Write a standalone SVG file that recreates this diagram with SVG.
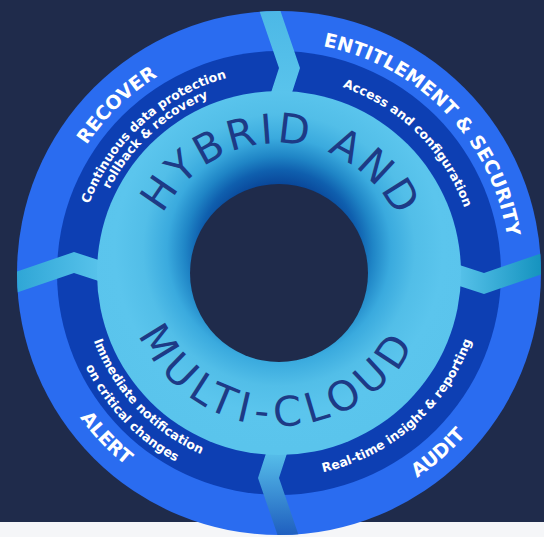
<svg xmlns="http://www.w3.org/2000/svg" width="544" height="537" viewBox="0 0 544 537">
<defs>
<style>
.title{font-family:"DejaVu Sans","Liberation Sans",sans-serif;font-weight:700;font-size:19px;fill:#ffffff}
.sub{font-family:"DejaVu Sans","Liberation Sans",sans-serif;font-weight:700;font-size:12.5px;fill:#ffffff}
.big{font-family:"DejaVu Sans","Liberation Sans",sans-serif;font-weight:400;font-size:41px;fill:#1d3a86}
.outer{fill:#2a6cf0}
.band{fill:#0d3fb3}
</style>
<radialGradient id="torus" gradientUnits="userSpaceOnUse" cx="279" cy="250" r="200">
<stop offset="0.33" stop-color="#09479a"/>
<stop offset="0.4" stop-color="#0f5fae"/>
<stop offset="0.47" stop-color="#1f85c6"/>
<stop offset="0.56" stop-color="#3aaade"/>
<stop offset="0.68" stop-color="#52bee8"/>
<stop offset="0.82" stop-color="#5bc5ed"/>
<stop offset="1" stop-color="#5ac4ec"/>
</radialGradient>
<linearGradient id="gTop" gradientUnits="userSpaceOnUse" x1="0" y1="98" x2="0" y2="11">
<stop offset="0" stop-color="#5ac4ec"/><stop offset="1" stop-color="#4cb8e6"/>
</linearGradient>
<linearGradient id="gRight" gradientUnits="userSpaceOnUse" x1="0" y1="98" x2="0" y2="11">
<stop offset="0" stop-color="#5ac4ec"/><stop offset="1" stop-color="#1593bf"/>
</linearGradient>
<linearGradient id="gBottom" gradientUnits="userSpaceOnUse" x1="0" y1="98" x2="0" y2="11">
<stop offset="0" stop-color="#5ac4ec"/><stop offset="1" stop-color="#1f5fbf"/>
</linearGradient>
<linearGradient id="gLeft" gradientUnits="userSpaceOnUse" x1="0" y1="98" x2="0" y2="11">
<stop offset="0" stop-color="#5ac4ec"/><stop offset="1" stop-color="#2fa6d6"/>
</linearGradient>
<clipPath id="disk"><circle cx="279" cy="273" r="262"/></clipPath>
<polygon id="strip" points="255,-2 279,68 266,108 287,108 300,68 276,-2"/>
<path id="pRecover" d="M112.8,433.5 A231,231 0 0 1 445.2,112.5"/>
<path id="pEnt" d="M118.5,106.8 A231,231 0 0 1 439.5,439.2"/>
<path id="pAudit" d="M94,436.7 A247,247 0 0 0 464,109.3"/>
<path id="pAlert" d="M109,95.1 A246,246 0 0 0 449,450.9"/>
<path id="pCont" d="M127.9,411.5 A205,205 0 0 1 430.1,134.5"/>
<path id="pRoll" d="M138.9,402.8 A191,191 0 0 1 419.1,143.2"/>
<path id="pAccess" d="M138.3,133.7 A198,198 0 0 1 419.7,412.3"/>
<path id="pReal" d="M126.4,408.4 A204,204 0 0 0 431.6,137.6"/>
<path id="pImm" d="M141.6,127.7 A200,200 0 0 0 416.4,418.3"/>
<path id="pOn" d="M130.7,117.3 A215,215 0 0 0 427.3,428.7"/>
<path id="pHybrid" d="M149,270.05 A130,130 0 0 1 409,275.95"/>
<path id="pMulti" d="M126,269.8 A153,153 0 0 0 432,276.2"/>
</defs>

<rect x="0" y="0" width="544" height="537" fill="#1f2b4b"/>
<rect x="0" y="522" width="544" height="15" fill="#f5f6f8"/>

<g id="ring">
<circle class="outer" cx="279" cy="273" r="262"/>
<circle class="band" cx="279" cy="273" r="222"/>
</g>

<g id="connectors" clip-path="url(#disk)">
<use href="#strip" fill="url(#gTop)"/>
<use href="#strip" fill="url(#gRight)" transform="rotate(90 279 273)"/>
<use href="#strip" fill="url(#gBottom)" transform="rotate(180 279 273)"/>
<use href="#strip" fill="url(#gLeft)" transform="rotate(270 279 273)"/>
</g>

<g id="hub">
<circle cx="279" cy="273" r="182" fill="url(#torus)"/>
<circle cx="279" cy="273" r="89" fill="#1f2b4b"/>
<text class="big" style="letter-spacing:3.3px"><textPath href="#pHybrid" startOffset="50%" text-anchor="middle">HYBRID AND</textPath></text>
<text class="big" style="letter-spacing:6.3px"><textPath href="#pMulti" startOffset="50%" text-anchor="middle">MULTI-CLOUD</textPath></text>
</g>

<g id="recover">
<text class="title"><textPath href="#pRecover" startOffset="50%" text-anchor="middle">RECOVER</textPath></text>
<text class="sub"><textPath href="#pCont" startOffset="50%" text-anchor="middle">Continuous data protection</textPath></text>
<text class="sub"><textPath href="#pRoll" startOffset="50%" text-anchor="middle">rollback &amp; recovery</textPath></text>
</g>

<g id="entitlement">
<text class="title"><textPath href="#pEnt" startOffset="50%" text-anchor="middle">ENTITLEMENT &amp; SECURITY</textPath></text>
<text class="sub"><textPath href="#pAccess" startOffset="50%" text-anchor="middle">Access and configuration</textPath></text>
</g>

<g id="audit">
<text class="title"><textPath href="#pAudit" startOffset="50%" text-anchor="middle">AUDIT</textPath></text>
<text class="sub"><textPath href="#pReal" startOffset="50%" text-anchor="middle">Real-time insight &amp; reporting</textPath></text>
</g>

<g id="alert">
<text class="title"><textPath href="#pAlert" startOffset="50%" text-anchor="middle">ALERT</textPath></text>
<text class="sub"><textPath href="#pImm" startOffset="50%" text-anchor="middle">Immediate notification</textPath></text>
<text class="sub"><textPath href="#pOn" startOffset="50%" text-anchor="middle">on critical changes</textPath></text>
</g>
</svg>
